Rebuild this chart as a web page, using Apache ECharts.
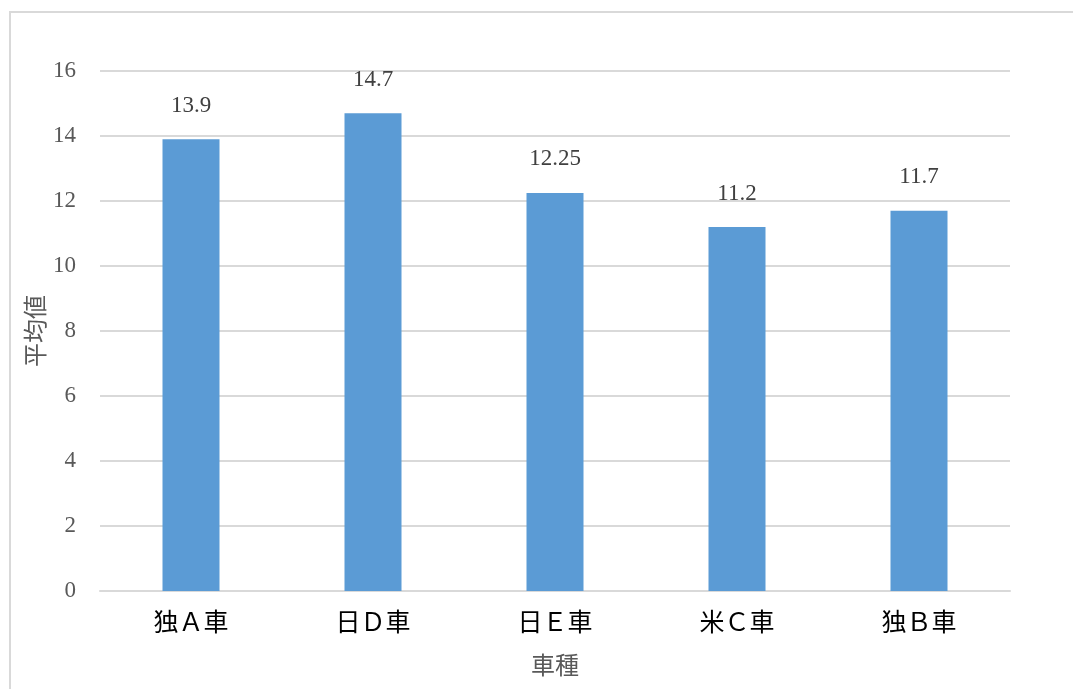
<!DOCTYPE html>
<html><head><meta charset="utf-8">
<script src="https://cdn.jsdelivr.net/npm/echarts@6/dist/echarts.min.js"></script>
<style>html,body{margin:0;padding:0;background:#fff}#c{width:1073px;height:689px;position:relative}
#frame{position:absolute;left:9px;top:11px;width:1070px;height:690px;border:2px solid #d9d9d9;box-sizing:border-box;pointer-events:none}</style>
</head><body><div id="c"></div><div id="frame"></div>
<script>
const categories = ['独Ａ車', '日Ｄ車', '日Ｅ車', '米Ｃ車', '独Ｂ車'];
const values = [13.9, 14.7, 12.25, 11.2, 11.7];
const yTicks = [0, 2, 4, 6, 8, 10, 12, 14, 16];
const serif = '"Liberation Serif","DejaVu Serif","Noto Sans CJK JP",serif';
const chart = echarts.init(document.getElementById('c'));
chart.setOption({
  animation: false,
  grid: {left: 100, right: 63, top: 71, bottom: 98},
  xAxis: {
    type: 'category', data: categories,
    name: '車種', nameLocation: 'middle', nameGap: 65,
    nameTextStyle: {fontFamily: serif, fontSize: 24, color: '#595959'},
    axisLine: {lineStyle: {color: '#d9d9d9', width: 2}},
    axisTick: {show: false},
    axisLabel: {fontFamily: serif, fontSize: 25, color: '#000', margin: 21}
  },
  yAxis: {
    type: 'value', min: yTicks[0], max: yTicks[yTicks.length-1], interval: 2,
    name: '平均値', nameLocation: 'middle', nameGap: 50, nameMoveOverlap: false,
    nameTextStyle: {fontFamily: serif, fontSize: 24, color: '#595959'},
    axisLine: {show: false}, axisTick: {show: false},
    axisLabel: {fontFamily: serif, fontSize: 23, color: '#595959', margin: 24},
    splitLine: {lineStyle: {color: '#d9d9d9', width: 2}}
  },
  series: [{
    type: 'bar', data: values, barWidth: 57,
    itemStyle: {color: '#5b9bd5'},
    label: {show: true, position: 'top', distance: 22, fontFamily: serif, fontSize: 23, color: '#404040'}
  }]
});
</script></body></html>
